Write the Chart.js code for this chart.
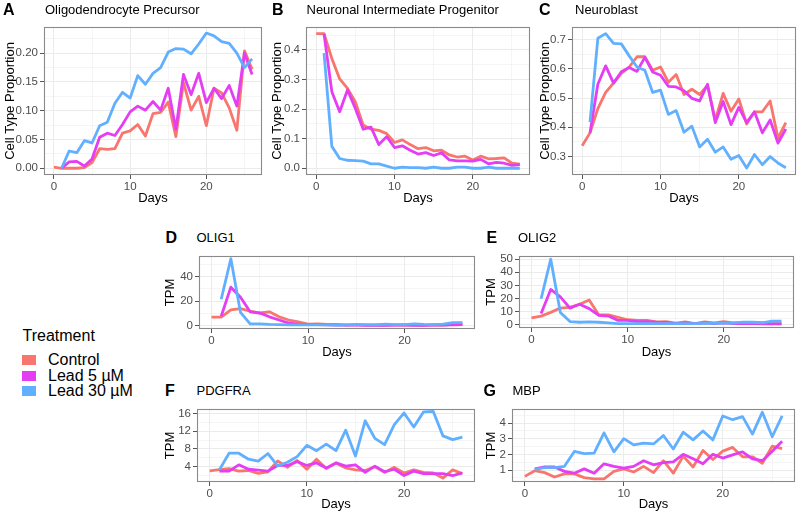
<!DOCTYPE html>
<html><head><meta charset="utf-8">
<script src="https://cdn.jsdelivr.net/npm/chart.js@4.4.1/dist/chart.umd.min.js"></script>
<style>
body{margin:0;background:#fff;width:800px;height:514px;position:relative;overflow:hidden;font-family:"Liberation Sans",Arial,sans-serif}
canvas{position:absolute}
.lt{position:absolute;font-weight:bold;font-size:16px;line-height:18px;color:#000;white-space:nowrap}
.tt{position:absolute;font-size:13px;line-height:16px;color:#000;white-space:nowrap}
.lg{position:absolute;font-size:16px;line-height:18px;color:#000;white-space:nowrap}
.key{position:absolute;width:14px;height:10px}
</style>
</head><body>
<script>
// ---------- data ----------
const days = [0,1,2,3,4,5,6,7,8,9,10,11,12,13,14,15,16,17,18,19,20,21,22,23,24,25,26];
const treatments = ['Control','Lead 5 \u00b5M','Lead 30 \u00b5M'];
const colors = ['#F8766D','#E43DF3','#61B0FF'];

const A_ctrl = [0.002,0,0,0,0.001,0.010,0.034,0.033,0.034,0.061,0.065,0.076,0.056,0.095,0.097,0.115,0.055,0.149,0.101,0.125,0.074,0.139,0.131,0.105,0.066,0.204,0.172];
const A_l5   = [null,0,0.011,0.012,0.004,0.016,0.054,0.061,0.057,0.076,0.098,0.108,0.101,0.116,0.101,0.139,0.068,0.163,0.128,0.165,0.114,0.139,0.121,0.144,0.108,0.200,0.163];
const A_l30  = [null,0,0.030,0.027,0.048,0.044,0.074,0.080,0.113,0.132,0.122,0.161,0.146,0.165,0.175,0.202,0.208,0.207,0.199,0.216,0.235,0.230,0.220,0.217,0.200,0.175,0.190];

const B_ctrl = [0.455,0.455,0.371,0.302,0.270,0.224,0.146,0.132,0.128,0.117,0.087,0.096,0.080,0.066,0.070,0.059,0.061,0.045,0.038,0.041,0.028,0.041,0.032,0.033,0.035,0.017,0.014];
const B_l5   = [null,0.455,0.259,0.191,0.265,0.202,0.132,0.139,0.080,0.107,0.070,0.076,0.061,0.048,0.053,0.043,0.052,0.028,0.025,0.025,0.024,0.030,0.015,0.020,0.017,0.010,0.012];
const B_l30  = [null,0.389,0.074,0.033,0.027,0.026,0.024,0.015,0.015,0.007,0,0.004,0.002,0.002,0,0.004,0,0,0.004,0.004,0,0,0.004,0,0,0,0];

const C_ctrl = [0.337,0.381,0.464,0.519,0.551,0.584,0.606,0.641,0.641,0.595,0.606,0.554,0.580,0.512,0.530,0.512,0.543,0.425,0.516,0.455,0.497,0.411,0.453,0.453,0.490,0.363,0.416];
const C_l5   = [null,0.381,0.547,0.610,0.551,0.590,0.604,0.591,0.639,0.589,0.578,0.540,0.538,0.525,0.499,0.490,0.547,0.416,0.488,0.409,0.468,0.416,0.453,0.381,0.425,0.346,0.394];
const C_l30  = [null,0.418,0.704,0.720,0.687,0.685,0.644,0.606,0.595,0.519,0.527,0.444,0.457,0.383,0.404,0.333,0.359,0.315,0.333,0.291,0.304,0.261,0.307,0.272,0.300,0.278,0.262];

const D_ctrl = [6.9,6.9,12.8,13.8,11.8,10.3,11.3,7.2,4.6,3.1,1.3,1.5,1.0,1.0,0.5,0.8,0.5,0.6,0.4,0.5,0.6,0.5,0.3,0.6,0.5,1.0,1.2];
const D_l5   = [null,7.7,31.3,23.1,11.3,10.3,7.2,4.6,2.1,1.3,1.0,0.8,0.6,0.5,0.4,0.5,0.3,0.3,0.2,0.4,0.5,0.3,0.3,0.4,0.5,0.6,0.8];
const D_l30  = [null,21.5,54.4,10.8,1.5,1.5,1.0,0.8,0.7,0.6,0.6,0.7,0.6,0.5,0.6,0.8,0.9,0.7,1.2,0.8,0.9,1.5,1.0,0.9,1.2,2.5,2.5];

const E_ctrl = [5.2,6.6,9.4,12.7,13.2,15.6,18.9,7.5,7.5,5.7,3.8,3.3,3.3,2.1,2.4,1.2,2.1,0.9,2.1,1.4,2.4,1.4,1.4,0.9,1.4,0.9,0.9];
const E_l5   = [null,8.5,26.9,21.2,12.7,15.6,12.3,7.1,6.6,3.3,3.3,2.4,2.4,1.9,1.7,0.9,1.4,0.9,1.4,0.9,1.4,0.9,0.9,0.9,0.7,0.7,0.7];
const E_l30  = [null,19.8,50.0,9.4,2.4,1.9,2.1,1.9,1.4,0.9,0.9,0.9,0.9,0.8,0.8,0.9,0.9,0.8,1.0,1.0,1.2,1.3,2.0,1.9,1.5,2.8,2.8];

const F_ctrl = [3.08,3.36,3.57,3.0,3.15,2.5,2.86,5.28,3.86,5.42,3.43,5.7,3.57,4.85,3.72,3.29,3.15,4.0,2.72,3.86,2.58,3.29,2.72,2.58,1.44,3.29,2.44];
const F_l5   = [null,3.0,3.0,4.43,3.43,3.22,3.0,4.28,4.28,5.14,4.28,4.85,3.72,4.85,4.14,4.43,2.72,4.14,2.86,3.43,2.0,3.0,2.44,2.44,2.44,2.0,2.58];
const F_l30  = [null,3.29,7.05,7.05,5.7,5.28,6.98,4.21,5.0,6.27,8.83,7.62,9.11,7.62,12.24,6.41,14.37,10.39,8.97,13.52,16.14,12.95,16.36,16.5,10.96,10.11,10.68];

const G_ctrl = [0.60,0.96,0.84,0.56,0.76,0.76,0.52,0.44,0.44,0.92,1.08,0.88,1.24,0.84,1.60,0.80,1.89,1.20,2.25,1.68,2.21,2.45,1.85,1.85,1.44,2.53,2.37];
const G_l5   = [null,1.08,1.20,1.20,0.92,0.80,1.08,0.80,1.40,1.24,1.12,1.24,1.60,1.34,1.48,1.52,2.01,1.72,1.40,2.01,1.77,1.97,2.17,1.72,1.60,2.21,2.85];
const G_l30  = [null,1.04,1.16,1.16,1.24,2.19,2.05,2.09,3.38,2.17,3.01,2.61,2.73,2.67,3.21,2.35,3.42,2.93,3.50,2.93,4.46,4.22,4.42,3.30,4.70,3.13,4.46];

// ---------- ticks ----------
const xMajor = [0,10,20];
const xMinor = [5,15,25];
const A_yMajor = [0,0.05,0.10,0.15,0.20], A_yMinor = [0.025,0.075,0.125,0.175,0.225], A_yLabels = ['0.00','0.05','0.10','0.15','0.20'];
const B_yMajor = [0,0.1,0.2,0.3,0.4], B_yMinor = [0.05,0.15,0.25,0.35,0.45], B_yLabels = ['0.0','0.1','0.2','0.3','0.4'];
const C_yMajor = [0.3,0.4,0.5,0.6,0.7], C_yMinor = [0.25,0.35,0.45,0.55,0.65], C_yLabels = ['0.3','0.4','0.5','0.6','0.7'];
const D_yMajor = [0,20,40], D_yMinor = [10,30,50], D_yLabels = ['0','20','40'];
const E_yMajor = [0,10,20,30,40,50], E_yMinor = [5,15,25,35,45], E_yLabels = ['0','10','20','30','40','50'];
const F_yMajor = [4,8,12,16], F_yMinor = [2,6,10,14], F_yLabels = ['4','8','12','16'];
const G_yMajor = [1,2,3,4], G_yMinor = [0.5,1.5,2.5,3.5,4.5], G_yLabels = ['1','2','3','4'];

// ---------- drawing ----------
const FONT = '"Liberation Sans", Arial, sans-serif';
const frame = {
  id:'frame',
  afterDatasetsDraw(chart){
    const {ctx, chartArea:a} = chart;
    ctx.save(); ctx.strokeStyle='#8a8a8a'; ctx.lineWidth=1.1;
    ctx.strokeRect(Math.round(a.left)+0.5, Math.round(a.top)+0.5, Math.round(a.right-a.left)-1, Math.round(a.bottom-a.top)-1);
    ctx.restore();
  }
};

function addText(cls, txt, left, top){
  const d=document.createElement('div'); d.className=cls; d.textContent=txt;
  d.style.left=left+'px'; d.style.top=top+'px'; document.body.appendChild(d);
}

function panel(p){
  const cw = p.cR - p.cL, ch = p.cB - p.cT;
  const c = document.createElement('canvas');
  c.width = cw; c.height = ch;
  c.style.left = p.cL+'px'; c.style.top = p.cT+'px';
  c.style.width = cw+'px'; c.style.height = ch+'px';
  document.body.appendChild(c);
  const series = [p.ctrl, p.l5, p.l30];
  const ds = series.map((arr,i)=>({
    label: treatments[i],
    data: days.map((d,j)=>({x:d, y:arr[j]})),
    borderColor: colors[i], backgroundColor: colors[i],
    order: 3-i, spanGaps:false
  }));
  const allX = xMajor.concat(xMinor).sort((a,b)=>a-b);
  const allY = p.yMajor.concat(p.yMinor).sort((a,b)=>a-b);
  const lh = 13*1.2;
  new Chart(c, {
    type:'line',
    data:{datasets:ds},
    plugins:[frame],
    options:{
      responsive:false, animation:false, events:[], devicePixelRatio:1,
      layout:{padding:{top:p.pT-p.cT, right:p.cR-p.pR, left:0, bottom:0}},
      plugins:{legend:{display:false}, tooltip:{enabled:false}, title:{display:false}},
      elements:{point:{radius:0}, line:{borderWidth:2.8, tension:0, borderJoinStyle:'round', borderCapStyle:'butt'}},
      scales:{
        x:{
          type:'linear', min:-1.3, max:27.3,
          afterBuildTicks:a=>{a.ticks = allX.map(v=>({value:v}));},
          afterFit:a=>{a.height = p.cB - p.pB;},
          border:{display:false},
          grid:{color:'#EBEBEB', lineWidth:ctx=> xMajor.includes(ctx.tick && ctx.tick.value)?1:0.5,
                tickLength:4, tickColor:ctx=> xMajor.includes(ctx.tick && ctx.tick.value)?'#555':'rgba(0,0,0,0)'},
          ticks:{autoSkip:false, maxRotation:0, padding:1, color:'#4D4D4D', font:{family:FONT,size:11.5},
                 callback:(v)=> xMajor.includes(v)? String(v) : ''},
          title:{display:true, text:'Days', color:'#000', font:{family:FONT,size:13},
                 padding:{top:0,bottom:p.cB - p.xTitleY - lh/2}}
        },
        y:{
          type:'linear', min:p.yMin, max:p.yMax,
          afterBuildTicks:a=>{a.ticks = allY.map(v=>({value:v}));},
          afterFit:a=>{a.width = p.pL - p.cL;},
          border:{display:false},
          grid:{color:'#EBEBEB', lineWidth:ctx=> p.yMajor.includes(ctx.tick && ctx.tick.value)?1:0.5,
                tickLength:4, tickColor:ctx=> p.yMajor.includes(ctx.tick && ctx.tick.value)?'#555':'rgba(0,0,0,0)'},
          ticks:{autoSkip:false, padding:2, color:'#4D4D4D', font:{family:FONT,size:11.5},
                 callback:(v)=>{const k=p.yMajor.indexOf(v); return k>=0? p.yLabels[k] : '';}},
          title:{display:true, text:p.yTitle, color:'#000', font:{family:FONT,size:13},
                 padding:{top:p.yTitleX - p.cL - lh/2, bottom:0}}
        }
      }
    }
  });
  addText('lt', p.letter, p.letX, p.letY - 8.8);
  addText('tt', p.title, p.titX, p.letY - 7.9);
}

const panels = [
  {letter:'A', title:'Oligodendrocyte Precursor', letX:3, titX:45, letY:10,
   cL:0, cT:18, cR:265, cB:208, pL:44, pT:23, pR:262, pB:175, yTitleX:10, xTitleY:198,
   yMin:-0.0117, yMax:0.2457, yMajor:A_yMajor, yMinor:A_yMinor, yLabels:A_yLabels, yTitle:'Cell Type Proportion',
   ctrl:A_ctrl, l5:A_l5, l30:A_l30},
  {letter:'B', title:'Neuronal Intermediate Progenitor', letX:272, titX:306.5, letY:10,
   cL:265, cT:18, cR:535, cB:208, pL:306, pT:23, pR:530, pB:175, yTitleX:277, xTitleY:198,
   yMin:-0.0228, yMax:0.478, yMajor:B_yMajor, yMinor:B_yMinor, yLabels:B_yLabels, yTitle:'Cell Type Proportion',
   ctrl:B_ctrl, l5:B_l5, l30:B_l30},
  {letter:'C', title:'Neuroblast', letX:539, titX:575, letY:10,
   cL:530, cT:18, cR:800, cB:208, pL:572, pT:23, pR:796, pB:175, yTitleX:545, xTitleY:198,
   yMin:0.237, yMax:0.743, yMajor:C_yMajor, yMinor:C_yMinor, yLabels:C_yLabels, yTitle:'Cell Type Proportion',
   ctrl:C_ctrl, l5:C_l5, l30:C_l30},
  {letter:'D', title:'OLIG1', letX:165.5, titX:196.5, letY:237.5,
   cL:155, cT:247, cR:480, cB:362, pL:199, pT:252, pR:475, pB:329, yTitleX:170.5, xTitleY:352,
   yMin:-2.7, yMax:56.7, yMajor:D_yMajor, yMinor:D_yMinor, yLabels:D_yLabels, yTitle:'TPM',
   ctrl:D_ctrl, l5:D_l5, l30:D_l30},
  {letter:'E', title:'OLIG2', letX:486.5, titX:518, letY:237.5,
   cL:475, cT:247, cR:800, cB:362, pL:519, pT:252, pR:794, pB:328, yTitleX:491.5, xTitleY:352,
   yMin:-2.5, yMax:52.5, yMajor:E_yMajor, yMinor:E_yMinor, yLabels:E_yLabels, yTitle:'TPM',
   ctrl:E_ctrl, l5:E_l5, l30:E_l30},
  {letter:'F', title:'PDGFRA', letX:165, titX:196.5, letY:390.5,
   cL:155, cT:400, cR:480, cB:514, pL:197, pT:405, pR:475, pB:482, yTitleX:170.5, xTitleY:504,
   yMin:0.55, yMax:17.05, yMajor:F_yMajor, yMinor:F_yMinor, yLabels:F_yLabels, yTitle:'TPM',
   ctrl:F_ctrl, l5:F_l5, l30:F_l30},
  {letter:'G', title:'MBP', letX:483.5, titX:512.5, letY:390.5,
   cL:475, cT:400, cR:800, cB:514, pL:512, pT:406, pR:795, pB:482, yTitleX:491.5, xTitleY:504,
   yMin:0.24, yMax:4.91, yMajor:G_yMajor, yMinor:G_yMinor, yLabels:G_yLabels, yTitle:'TPM',
   ctrl:G_ctrl, l5:G_l5, l30:G_l30}
];
panels.forEach(panel);

// legend
addText('lg', 'Treatment', 22.5, 335.3 - 8.8);
const legY = [360, 375.5, 391];
treatments.forEach((t,i)=>{
  const k=document.createElement('div'); k.className='key';
  k.style.background=colors[i]; k.style.left='22px'; k.style.top=(legY[i]-5)+'px';
  document.body.appendChild(k);
  addText('lg', t, 48, legY[i]-8.8);
});
</script>
</body></html>
